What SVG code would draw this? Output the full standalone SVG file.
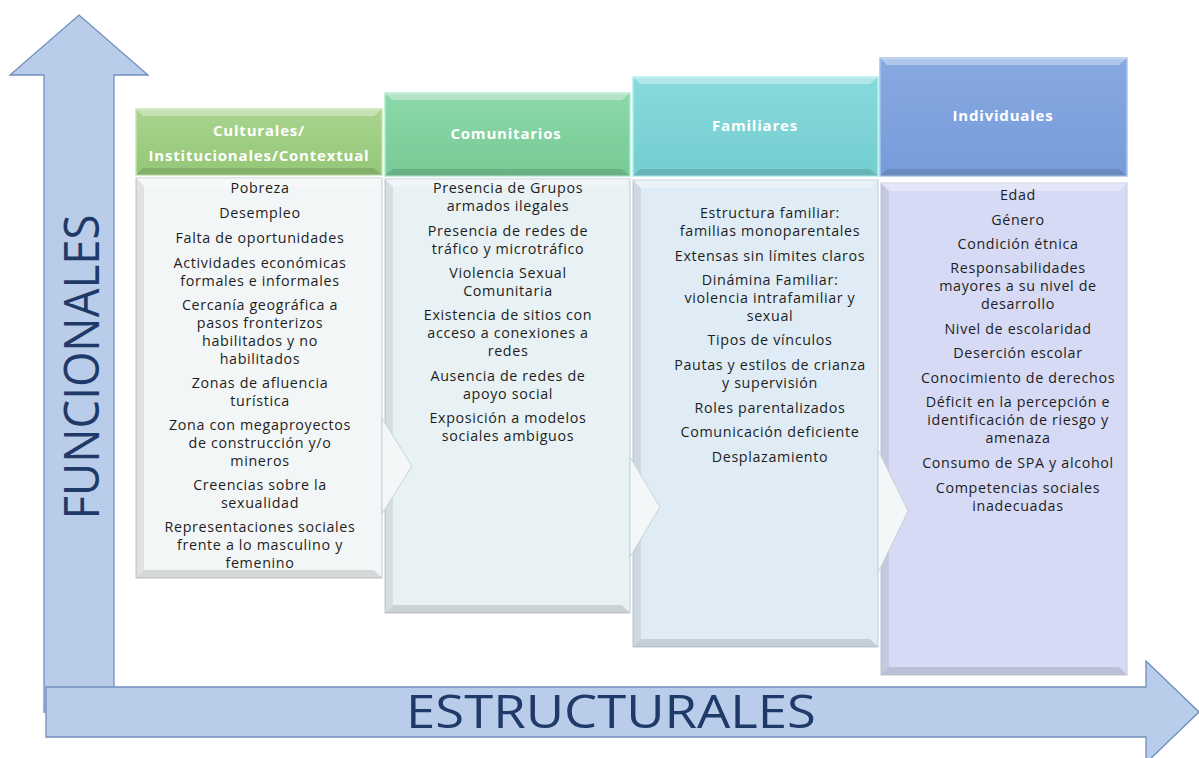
<svg xmlns="http://www.w3.org/2000/svg" width="1199" height="758" viewBox="0 0 1199 758">
<style>
.axis{fill:#B9CDEA;stroke:#6F8EBE;stroke-width:1.3}
.axl{font-family:"Open Sans","DejaVu Sans",sans-serif;fill:#1F3A68}
.hd{font-family:"Open Sans","DejaVu Sans",sans-serif;font-weight:bold;font-size:15px;letter-spacing:0.8px;fill:#ffffff;text-anchor:middle}
.tx{font-family:"Open Sans","DejaVu Sans",sans-serif;font-size:14.3px;letter-spacing:0.65px;fill:#1e1e1e;text-anchor:middle}
.bodyedge{stroke:#c9d3d8;stroke-width:1.2}
.shL{fill:#000;opacity:0.08}
.shB{fill:#000;opacity:0.12}
.hiT{fill:#fff;opacity:0.35}
.chev{fill:#f3f7f8;stroke:#c8d3d8;stroke-width:1}
</style>
<defs>
<linearGradient id="g1" x1="0" y1="0" x2="0" y2="1"><stop offset="0" stop-color="#A9D48E"/><stop offset="1" stop-color="#93C777"/></linearGradient>
<linearGradient id="g2" x1="0" y1="0" x2="0" y2="1"><stop offset="0" stop-color="#8CD8A9"/><stop offset="1" stop-color="#77CA96"/></linearGradient>
<linearGradient id="g3" x1="0" y1="0" x2="0" y2="1"><stop offset="0" stop-color="#88DADC"/><stop offset="1" stop-color="#74CDD0"/></linearGradient>
<linearGradient id="g4" x1="0" y1="0" x2="0" y2="1"><stop offset="0" stop-color="#87A9E1"/><stop offset="1" stop-color="#779CDA"/></linearGradient>
</defs>
<rect width="1199" height="758" fill="#ffffff"/>

<g id="axis-funcionales">
<polygon class="axis" points="44,712 44,75 10,75 79,15 148,75 114,75 114,712"/>
<text class="axl" font-size="50" text-anchor="middle" textLength="305" lengthAdjust="spacingAndGlyphs" transform="translate(99,367) rotate(-90)">FUNCIONALES</text>
</g>

<g id="col1">
<rect x="136" y="109" width="246" height="66" fill="url(#g1)" stroke="#c4e3b2" stroke-width="1.5"/>
<polygon class="hiT" points="136,109 382,109 374,116 143,116"/>
<polygon class="shB" points="136,175 382,175 374,168 143,168"/>
<text class="hd" x="259" y="136">Culturales/</text>
<text class="hd" x="259" y="161">Institucionales/Contextual</text>
<rect class="bodyedge" x="136" y="178" width="246" height="400" fill="#F3F6F6"/>
<polygon class="shL" points="136,178 144,186 144,570 136,578"/>
<polygon class="shB" points="136,578 144,570 374,570 382,578"/>
<polygon class="hiT" points="136,178 382,178 374,186 144,186"/>
<g class="tx">
<text x="260" y="193">Pobreza</text>
<text x="260" y="218">Desempleo</text>
<text x="260" y="243">Falta de oportunidades</text>
<text x="260" y="268">Actividades económicas</text>
<text x="260" y="286">formales e informales</text>
<text x="260" y="310">Cercanía geográfica a</text>
<text x="260" y="328">pasos fronterizos</text>
<text x="260" y="346">habilitados y no</text>
<text x="260" y="364">habilitados</text>
<text x="260" y="388">Zonas de afluencia</text>
<text x="260" y="406">turística</text>
<text x="260" y="430">Zona con megaproyectos</text>
<text x="260" y="448">de construcción y/o</text>
<text x="260" y="466">mineros</text>
<text x="260" y="490">Creencias sobre la</text>
<text x="260" y="508">sexualidad</text>
<text x="260" y="532">Representaciones sociales</text>
<text x="260" y="550">frente a lo masculino y</text>
<text x="260" y="568">femenino</text>
</g>
</g>

<g id="col2">
<rect x="385" y="93" width="245" height="83" fill="url(#g2)" stroke="#b4ead0" stroke-width="1.5"/>
<polygon class="hiT" points="385,93 630,93 622,100 392,100"/>
<polygon class="shB" points="385,176 630,176 622,169 392,169"/>
<text class="hd" x="506" y="139">Comunitarios</text>
<rect class="bodyedge" x="385" y="179" width="245" height="434" fill="#E8F1F4"/>
<polygon class="shL" points="385,179 393,187 393,605 385,613"/>
<polygon class="shB" points="385,613 393,605 622,605 630,613"/>
<polygon class="hiT" points="385,179 630,179 622,187 393,187"/>
<g class="tx">
<text x="508" y="193">Presencia de Grupos</text>
<text x="508" y="211">armados ilegales</text>
<text x="508" y="236">Presencia de redes de</text>
<text x="508" y="254">tráfico y microtráfico</text>
<text x="508" y="278">Violencia Sexual</text>
<text x="508" y="296">Comunitaria</text>
<text x="508" y="320">Existencia de sitios con</text>
<text x="508" y="338">acceso a conexiones a</text>
<text x="508" y="356">redes</text>
<text x="508" y="381">Ausencia de redes de</text>
<text x="508" y="399">apoyo social</text>
<text x="508" y="423">Exposición a modelos</text>
<text x="508" y="441">sociales ambiguos</text>
</g>
</g>

<g id="col3">
<rect x="633" y="77" width="245" height="99" fill="url(#g3)" stroke="#b0eef0" stroke-width="1.5"/>
<polygon class="hiT" points="633,77 878,77 870,84 640,84"/>
<polygon class="shB" points="633,176 878,176 870,169 640,169"/>
<text class="hd" x="755" y="131">Familiares</text>
<rect class="bodyedge" x="633" y="180" width="245" height="467" fill="#DFECF5"/>
<polygon class="shL" points="633,180 641,188 641,639 633,647"/>
<polygon class="shB" points="633,647 641,639 870,639 878,647"/>
<polygon class="hiT" points="633,180 878,180 870,188 641,188"/>
<g class="tx">
<text x="770" y="218">Estructura familiar:</text>
<text x="770" y="236">familias monoparentales</text>
<text x="770" y="261">Extensas sin límites claros</text>
<text x="770" y="285">Dinámina Familiar:</text>
<text x="770" y="303">violencia intrafamiliar y</text>
<text x="770" y="321">sexual</text>
<text x="770" y="345">Tipos de vínculos</text>
<text x="770" y="370">Pautas y estilos de crianza</text>
<text x="770" y="388">y supervisión</text>
<text x="770" y="413">Roles parentalizados</text>
<text x="770" y="437">Comunicación deficiente</text>
<text x="770" y="462">Desplazamiento</text>
</g>
</g>

<g id="col4">
<rect x="880" y="58" width="247" height="118" fill="url(#g4)" stroke="#a9c3ec" stroke-width="1.5"/>
<polygon class="hiT" points="880,58 1127,58 1119,65 887,65"/>
<polygon class="shB" points="880,176 1127,176 1119,169 887,169"/>
<text class="hd" x="1003" y="121">Individuales</text>
<rect class="bodyedge" x="881" y="183" width="246" height="492" fill="#D6DAF4"/>
<polygon class="shL" points="881,183 889,191 889,667 881,675"/>
<polygon class="shB" points="881,675 889,667 1119,667 1127,675"/>
<polygon class="hiT" points="881,183 1127,183 1119,191 889,191"/>
<g class="tx">
<text x="1018" y="200">Edad</text>
<text x="1018" y="225">Género</text>
<text x="1018" y="249">Condición étnica</text>
<text x="1018" y="273">Responsabilidades</text>
<text x="1018" y="291">mayores a su nivel de</text>
<text x="1018" y="309">desarrollo</text>
<text x="1018" y="334">Nivel de escolaridad</text>
<text x="1018" y="358">Deserción escolar</text>
<text x="1018" y="383">Conocimiento de derechos</text>
<text x="1018" y="407">Déficit en la percepción e</text>
<text x="1018" y="425">identificación de riesgo y</text>
<text x="1018" y="443">amenaza</text>
<text x="1018" y="468">Consumo de SPA y alcohol</text>
<text x="1018" y="493">Competencias sociales</text>
<text x="1018" y="511">inadecuadas</text>
</g>
</g>

<g id="connectors">
<polygon class="chev" points="382,418 412,466 382,514"/>
<polygon class="chev" points="630,457 660,507 630,557"/>
<polygon class="chev" points="878,450 908,511 878,573"/>
</g>

<g id="axis-estructurales">
<polygon class="axis" points="46,687 1146,687 1146,661 1199,712 1146,763 1146,737 46,737"/>
<text class="axl" x="611" y="728" font-size="46" text-anchor="middle" textLength="410" lengthAdjust="spacingAndGlyphs">ESTRUCTURALES</text>
</g>
</svg>
